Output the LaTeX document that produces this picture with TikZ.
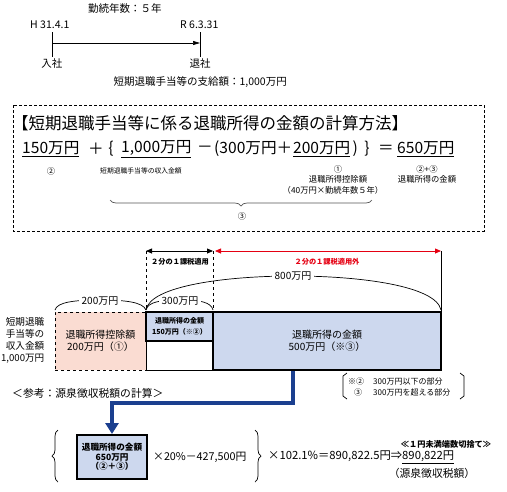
\documentclass[tikz,border=0pt]{standalone}
\usepackage{fontspec}
\setmainfont{Noto Sans CJK JP}
\usetikzlibrary{arrows.meta,decorations.pathreplacing}
\definecolor{pinkfill}{HTML}{FADCD2}
\definecolor{bluefill}{HTML}{CDD8EE}
\definecolor{arrowblue}{HTML}{1B3F8F}
\definecolor{redline}{HTML}{E50012}
\definecolor{bracegray}{HTML}{555555}
\newcommand\myfs[2]{\fontsize{#1}{#2}\selectfont}
\begin{document}
\begin{tikzpicture}[x=1pt,y=-1pt,
  txt/.style={inner sep=0pt, font=\myfs{10.5}{12}},
  frm/.style={inner sep=0pt, font=\myfs{15.6}{18}},
  sub/.style={inner sep=0pt, font=\myfs{8.3}{10}},
  tiny/.style={inner sep=0pt, font=\myfs{7.2}{8.5}\bfseries},
  arclabel/.style={fill=white, inner xsep=3pt, inner ysep=1pt, font=\myfs{10}{12}},
  thin/.style={line width=0.7pt},
  thick box/.style={draw, line width=2.2pt, fill=bluefill, inner sep=0pt, align=center},
  dblarrow/.style={{Triangle[length=6pt,width=5pt]}-{Triangle[length=6pt,width=5pt]}}
]
\useasboundingbox (0,0) rectangle (507,491);

% ---------- timeline ----------
\node[txt] (kinzoku) at (125,9) {勤続年数：５年};
\node[txt,anchor=west] (h31) at (30,25) {H 31.4.1};
\node[txt,anchor=west] (r6) at (180,25) {R 6.3.31};
\coordinate (a1) at (52,32); \coordinate (a2) at (52,57);
\coordinate (b1) at (200,32); \coordinate (b2) at (200,57);
\coordinate (am) at (52,43); \coordinate (bm) at (200,43);
\draw[thin] (a1) -- (a2);
\draw[thin] (b1) -- (b2);
\draw[thin,-{Triangle[length=7pt,width=4pt]}] (am) -- (bm);
\node[txt] (nyusha) at (52,64) {入社};
\node[txt] (taisha) at (200,64) {退社};
\node[txt,anchor=east] (shikyu) at (287,82) {短期退職手当等の支給額：1,000万円};

% ---------- formula box ----------
\draw[line width=0.8pt, dash pattern=on 3pt off 2pt] (13,105) rectangle (484,231);
\node[inner sep=0pt, anchor=west, font=\myfs{16.5}{18}] (title) at (12,123) {【短期退職手当等に係る退職所得の金額の計算方法】};

\node[frm,anchor=west] (f150) at (22,149) {\underline{150万円}};
\node[frm] (fplus) at (96,149) {＋};
\node[frm] (flb) at (111,149) {\{};
\node[frm,anchor=west] (f1000) at (121,149) {\underline{1,000万円}};
\node[frm] (fminus) at (205,149) {－};
\node[frm,anchor=west] (f300) at (214,149) {(300万円＋};
\node[frm,anchor=west] (f200) at ([xshift=0.5pt]f300.east) {\underline{200万円}};
\node[frm,anchor=west] (frp) at ([xshift=2pt]f200.east) {)};
\node[frm,anchor=west] (frb) at ([xshift=6pt]frp.east) {\}};
\node[frm] (feq) at (386,149) {＝};
\node[frm,anchor=west] (f650) at (397,149) {\underline{650万円}};

\node[sub] (l2) at (51,171) {②};
\node[inner sep=0pt, font=\myfs{6.8}{8}] (lshunyu) at (141,171) {短期退職手当等の収入金額};
\node[sub] (l1) at (338,169) {①};
\node[sub] (lkojo) at (338,179.5) {退職所得控除額};
\node[sub] (l40) at (333,190) {（40万円×勤続年数５年）};
\node[sub] (l23) at (427,169) {②+③};
\node[sub] (lkin) at (427,179.5) {退職所得の金額};
\coordinate (brl) at (110,200);
\coordinate (brr) at (372,200);
\draw[thin, bracegray, decorate, decoration={brace, amplitude=6pt, mirror}] (brl) -- (brr);
\node[sub] (l3) at (242,216) {③};

% ---------- bar chart ----------
\coordinate (v1t) at (146,251); \coordinate (v1b) at (146,312);
\coordinate (v2t) at (213,251); \coordinate (v2b) at (213,312);
\coordinate (v3t) at (441,251); \coordinate (v3b) at (441,312);
\coordinate (v2r) at (215,251);
\draw[thin, dashed] (v1t) -- (v1b);
\draw[thin, dashed] (v2t) -- (v2b);
\draw[thin] (v3t) -- (v3b);
\draw[line width=0.8pt, dblarrow] (v1t) -- (v2t);
\draw[line width=0.8pt, redline, dblarrow] (v2r) -- (v3t);
\node[tiny] (tekiyo) at (180,262) {２分の１課税適用};
\node[tiny, text=redline] (tekiyogai) at (327,262) {２分の１課税適用外};

% arcs
\draw[thin] (146,310) .. controls (150,286) and (225,276) .. (293,276) .. controls (361,276) and (436,286) .. (441,310);
\node[arclabel] (l800) at (293,276) {800万円};
\draw[thin] (55,310) .. controls (57,302) and (75,300) .. (100,300) .. controls (125,300) and (143,302) .. (146,310);
\node[arclabel] (l200) at (100,301) {200万円};
\draw[thin] (146,310) .. controls (148,302) and (160,300) .. (180,300) .. controls (200,300) and (211,302) .. (213,310);
\node[arclabel] (l300) at (180,301) {300万円};

% boxes
\node[draw, thin, dashed, fill=pinkfill, minimum width=91pt, minimum height=58pt, inner sep=0pt, align=center, font=\myfs{10}{11.5}] (kojo) at (100.5,341) {退職所得控除額\\200万円（①）};
\coordinate (w1) at (146,341); \coordinate (w2) at (146,370); \coordinate (w3) at (213,370);
\draw[thin] (w1) -- (w2) -- (w3);
\node[thick box, minimum width=67pt, minimum height=29pt, font=\myfs{7}{10.5}\bfseries] (small) at (179.5,326.5) {退職所得の金額\\150万円（※②）};
\node[thick box, minimum width=228pt, minimum height=58pt, font=\myfs{10}{11.5}] (big) at (327,341) {退職所得の金額\\500万円（※③）};

\node[inner sep=0pt, anchor=east, align=right, font=\myfs{9.6}{12}] (left) at (44.5,340) {短期退職\\手当等の\\収入金額\\1,000万円};

% notes
\node[inner sep=0pt, anchor=west, font=\myfs{8}{9}] (n2a) at (348,381) {※②};
\node[inner sep=0pt, anchor=west, font=\myfs{8}{9}] (n2b) at (373,381) {300万円以下の部分};
\node[inner sep=0pt, font=\myfs{8}{9}] (n3a) at (358,392) {③};
\node[inner sep=0pt, anchor=west, font=\myfs{8}{9}] (n3b) at (373,392) {300万円を超える部分};
\draw[thin] (347,373) -- (343,376) -- (343,396) -- (347,399);
\draw[thin] (460,373) -- (464,376) -- (464,396) -- (460,399);

% reference calculation
\node[txt, anchor=west, font=\myfs{10.8}{12}] (sanko) at (12,393) {＜参考：源泉徴収税額の計算＞};
\node[draw, line width=2pt, fill=bluefill, minimum width=70pt, minimum height=44pt, inner sep=0pt, align=center, font=\myfs{8.6}{9.7}\bfseries] (box650) at (112,457) {退職所得の金額\\650万円\\（②＋③）};
\coordinate (p1) at (293,371);
\coordinate (p2) at (293,403);
\coordinate (p3) at (112,403);
\draw[arrowblue, line width=4.5pt, line join=miter, -{Triangle[length=11pt,width=13pt]}] (p1) -- (p2) -- (p3) -- (box650.north);

\coordinate (lb1) at (58,482); \coordinate (lb2) at (58,430);
\coordinate (rb1) at (255,430); \coordinate (rb2) at (255,482);
\draw[thin, decorate, decoration={brace, amplitude=6pt}] (lb1) -- (lb2);
\draw[thin, decorate, decoration={brace, amplitude=6pt}] (rb1) -- (rb2);
\node[txt, anchor=west, font=\myfs{10.8}{12}] (t20) at (153,457) {×20\%－427,500円};
\node[txt, anchor=west, font=\myfs{11.3}{12}] (t102) at (268,457) {×102.1\%＝890,822.5円⇒\underline{890,822円}};
\node[txt, font=\myfs{8.2}{10}\bfseries] (kirisute) at (446,444) {≪１円未満端数切捨て≫};
\node[txt, font=\myfs{10.8}{12}] (gensen) at (432,473) {（源泉徴収税額）};
\end{tikzpicture}
\end{document}
